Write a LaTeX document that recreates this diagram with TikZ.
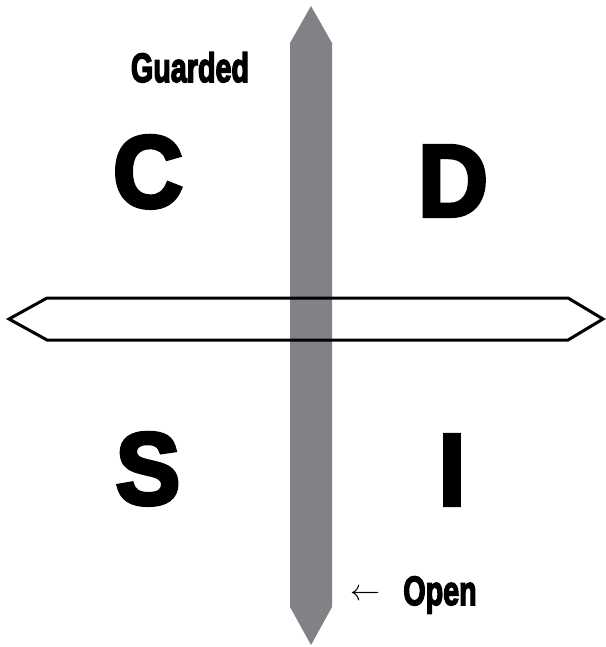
\documentclass[tikz,border=0pt]{standalone}
\usepackage{fontspec}
\usepackage{graphicx}
\newfontfamily\heavy{Liberation Sans}[BoldFeatures={FakeBold=4}]
\definecolor{bargray}{HTML}{808285}
\tikzset{
  letter/.style={font=\heavy\bfseries\fontsize{102}{102}\selectfont,anchor=base,inner sep=0pt,xscale=0.95},
  tag/.style={font=\heavy\bfseries\fontsize{41}{41}\selectfont,anchor=base,inner sep=0pt}
}
\begin{document}
\begin{tikzpicture}[x=1pt,y=-1pt]
\useasboundingbox (0,0) rectangle (605,647);
% vertical bar
\fill[bargray] (290,43)--(311,6)--(332,43)--(332,607)--(311,645)--(290,607)--cycle;
% horizontal bar
\draw[line width=3,line join=miter] (9,319)--(47,298)--(568,298)--(603,319)--(568,340)--(47,340)--cycle;

\node[tag] (G) at (190,82){\scalebox{0.7}[1]{Guarded}};
\node[letter] (C) at (148,207){C};
\node[letter] (D) at (453,216){D};
\node[letter] (S) at (148,504){S};
\node[letter] (I) at (452,505){I};
\node[anchor=base,inner sep=0pt] (A) at (365,600){\scalebox{3}{$\leftarrow$}};
\node[tag] (O) at (440,605){\scalebox{0.7}[1]{Open}};
\end{tikzpicture}
\end{document}
